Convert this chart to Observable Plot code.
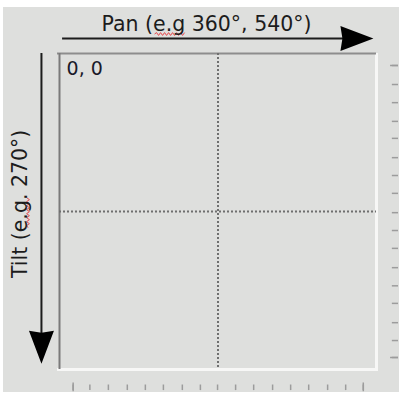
<!DOCTYPE html>
<html><head><meta charset="utf-8">
<script src="https://cdn.jsdelivr.net/npm/d3@7"></script>
<script src="https://cdn.jsdelivr.net/npm/@observablehq/plot@0.6"></script>
<style>
html,body{margin:0;padding:0;background:#ffffff;}
#chart svg{display:block;clip-path:inset(7px 0 2px 3px);}
</style></head><body><div id="chart"></div>
<script>
// Pan (x) and tilt (y) in degrees
const panDomain = [0, 720];
const tiltDomain = [0, 540];
const panCenter = [360];
const tiltCenter = [270];
// ruler ticks (pan degrees along the bottom, tilt degrees along the right)
const panTicks = [31, 69, 111, 154, 195, 236, 279, 320, 359, 400, 441, 484, 525, 566, 609, 650, 690];
const tiltTicks = [20.5, 53, 84, 116, 145, 178, 208.5, 239, 272, 302.5, 333, 366, 397, 427, 460, 490.5, 519.5];
const panEndTicks = [panTicks[0], panTicks[panTicks.length - 1]];
const tiltEndTicks = [tiltTicks[0], tiltTicks[tiltTicks.length - 1]];
// labels
const panLabel = ["Pan (e.g 360°, 540°)"];
const tiltLabel = ["Tilt (e.g. 270°)"];
const originLabel = ["0, 0"];
// arrows (start, end of shaft, tip) in degrees, and their off-frame positions
const panArrow = {tilt: -25.6, from: 7, to: 650, tip: 713};
const tiltArrow = {pan: -41, from: 0, to: 482, tip: 530};
const panLabelPos = {pan: 334, tilt: -64};
const tiltLabelPos = {pan: -88, tilt: 257};
const originPos = {pan: 16, tilt: 13};
const bottomTickSpan = {short: [566.5, 576], long: [563, 578]};
const rightTickSpan = {short: [756, 770], long: [752, 770]};
// spell-check squiggles under "e.g"
const squiggles = [{pan: 250, tilt: -33.3, rotate: 0}, {pan: -71.5, tilt: 272, rotate: -90}];

const arrowHead = {
  draw(ctx) {
    ctx.moveTo(0, 0);
    ctx.lineTo(-33, -12.5);
    ctx.lineTo(-31, 0);
    ctx.lineTo(-33, 12.5);
    ctx.closePath();
  }
};
const squiggle = {
  draw(ctx) {
    const half = 15, step = 2;
    ctx.moveTo(-half, 0);
    let up = true;
    for (let x = -half + step; x <= half; x += step) {
      ctx.lineTo(x, up ? -1.4 : 1.4);
      up = !up;
    }
  }
};

const ink = "#1c1c1c";
const font = "DejaVu Sans";

const chart = Plot.plot({
  width: 399,
  height: 394,
  marginLeft: 59,
  marginRight: 23,
  marginTop: 53,
  marginBottom: 25,
  style: {fontFamily: font, background: "#dedfdd"},
  x: {domain: panDomain, axis: null},
  y: {domain: tiltDomain, reverse: true, axis: null},
  marks: [
    // panel bevel
    Plot.ruleY([tiltDomain[1]], {stroke: "#f7f7f6", strokeWidth: 3, inset: -2}),
    Plot.ruleX([panDomain[1]], {stroke: "#f7f7f6", strokeWidth: 3, insetTop: 0, insetBottom: -2}),
    Plot.ruleY([tiltDomain[0]], {stroke: "#8d8d8d", strokeWidth: 2, insetLeft: -2}),
    Plot.ruleX([panDomain[0]], {stroke: "#7a7a7a", strokeWidth: 2}),
    // center crosshair
    Plot.ruleX(panCenter, {stroke: "#6f6f6f", strokeWidth: 2, strokeDasharray: "2,2"}),
    Plot.ruleY(tiltCenter, {stroke: "#6f6f6f", strokeWidth: 2, strokeDasharray: "2,2"}),
    // rulers
    Plot.ruleX(panTicks, {y1: bottomTickSpan.short[0], y2: bottomTickSpan.short[1], stroke: "#9c9c9c", strokeWidth: 1.5}),
    Plot.ruleX(panEndTicks, {y1: bottomTickSpan.long[0], y2: bottomTickSpan.long[1], stroke: "#9c9c9c", strokeWidth: 1.5}),
    Plot.ruleY(tiltTicks, {x1: rightTickSpan.short[0], x2: rightTickSpan.short[1], stroke: "#9c9c9c", strokeWidth: 1.5}),
    Plot.ruleY(tiltEndTicks, {x1: rightTickSpan.long[0], x2: rightTickSpan.long[1], stroke: "#9c9c9c", strokeWidth: 1.5}),
    // pan arrow
    Plot.ruleY([panArrow.tilt], {x1: panArrow.from, x2: panArrow.to, stroke: ink, strokeWidth: 2}),
    Plot.dot([panArrow], {x: "tip", y: "tilt", symbol: arrowHead, fill: "#000", stroke: null}),
    // tilt arrow
    Plot.ruleX([tiltArrow.pan], {y1: tiltArrow.from, y2: tiltArrow.to, stroke: ink, strokeWidth: 2}),
    Plot.dot([tiltArrow], {x: "pan", y: "tip", symbol: arrowHead, rotate: 90, fill: "#000", stroke: null}),
    // squiggles
    Plot.dot(squiggles, {x: "pan", y: "tilt", rotate: "rotate", symbol: squiggle, fill: "none", stroke: "#e5484d", strokeWidth: 1}),
    // labels
    Plot.text(panLabel, {x: panLabelPos.pan, y: panLabelPos.tilt, text: d => d, fontSize: 20.5, fill: ink, lineAnchor: "top", textAnchor: "middle"}),
    Plot.text(tiltLabel, {x: tiltLabelPos.pan, y: tiltLabelPos.tilt, text: d => d, fontSize: 20.5, fill: ink, rotate: -90, lineAnchor: "middle", textAnchor: "middle"}),
    Plot.text(originLabel, {x: originPos.pan, y: originPos.tilt, text: d => d, fontSize: 19, fill: "#1a1a2a", lineAnchor: "top", textAnchor: "start"})
  ]
});
document.getElementById("chart").appendChild(chart);
</script></body></html>
